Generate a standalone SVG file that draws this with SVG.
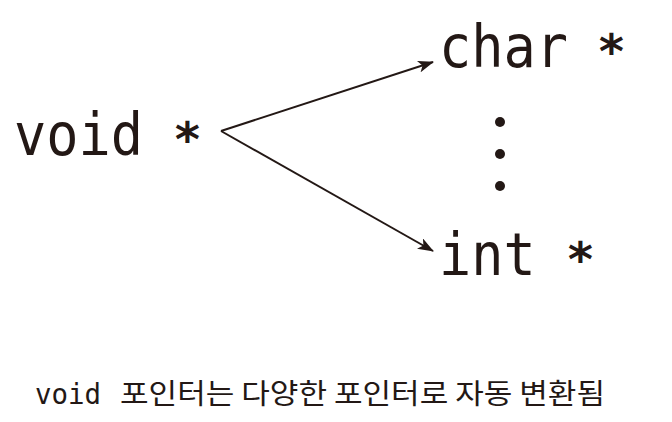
<svg xmlns="http://www.w3.org/2000/svg" width="672" height="422" viewBox="0 0 672 422">
<style>
.big{font-family:"DejaVu Sans Mono","Liberation Mono",monospace;font-size:58px;fill:#231815}
.star{font-family:"DejaVu Sans Mono","Liberation Mono",monospace;font-size:48px;font-weight:bold;fill:#231815;text-anchor:middle}
.mono{font-family:"DejaVu Sans Mono","Liberation Mono",monospace;font-size:29px;fill:#231815}
.kr{font-family:"Noto Sans CJK KR","Noto Sans",sans-serif;font-size:28px;fill:#231815}
.edge{stroke:#231815;stroke-width:2;fill:none;marker-end:url(#ah)}
</style>
<defs>
<marker id="ah" viewBox="0 0 16 12" refX="15" refY="6" markerWidth="16" markerHeight="12" markerUnits="userSpaceOnUse" orient="auto">
<path d="M0,0 L16,6 L0,12 L4,6 Z" fill="#231815"/>
</marker>
</defs>
<rect width="672" height="422" fill="#ffffff"/>
<g id="void">
<text class="big" x="14" y="155" textLength="129" lengthAdjust="spacingAndGlyphs">void</text>
<text class="star" x="187.5" y="156">*</text>
</g>
<g id="char">
<text class="big" x="439" y="67" textLength="129" lengthAdjust="spacingAndGlyphs">char</text>
<text class="star" x="611.5" y="68">*</text>
</g>
<g id="int">
<text class="big" x="439" y="275" textLength="96.6" lengthAdjust="spacingAndGlyphs">int</text>
<text class="star" x="580.5" y="276">*</text>
</g>
<g id="dots" fill="#231815">
<circle cx="500" cy="122" r="5"/>
<circle cx="500" cy="154" r="5"/>
<circle cx="500" cy="186" r="5"/>
</g>
<g id="connectors">
<path class="edge" d="M221,131 L433,62"/>
<path class="edge" d="M221,131 L433,251"/>
</g>
<g id="caption">
<text class="mono" x="35" y="404" textLength="66" lengthAdjust="spacingAndGlyphs">void</text>
<text class="kr" x="120" y="404" textLength="485" lengthAdjust="spacingAndGlyphs">포인터는 다양한 포인터로 자동 변환됨</text>
</g>
</svg>
